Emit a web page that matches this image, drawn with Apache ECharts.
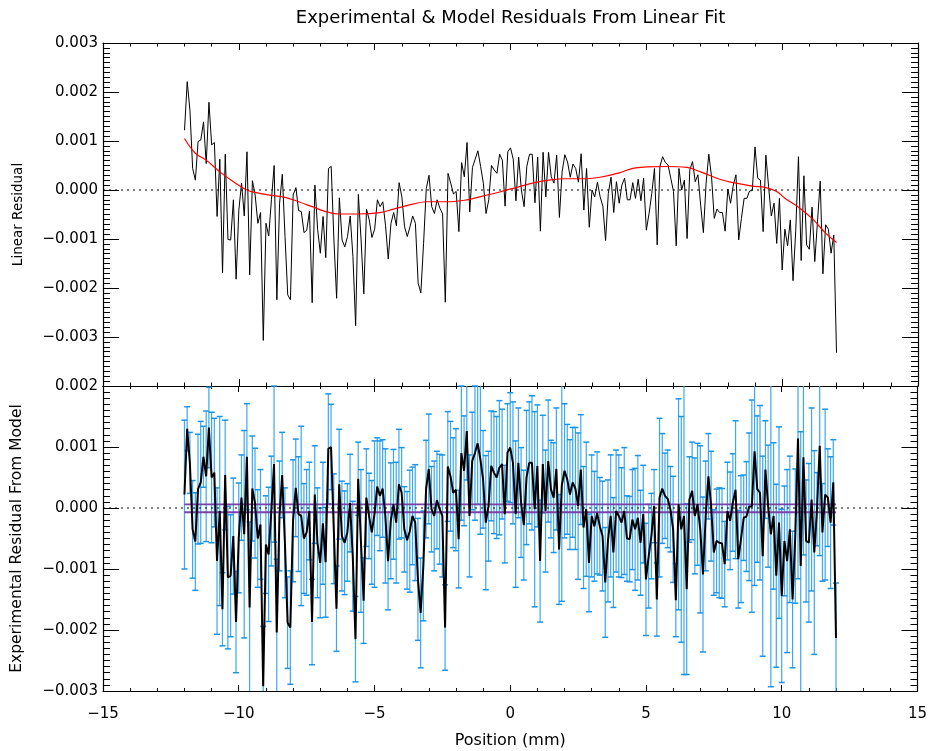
<!DOCTYPE html>
<html>
<head>
<meta charset="utf-8">
<script src="https://cdn.jsdelivr.net/npm/echarts@6/dist/echarts.min.js"></script>
<style>
html,body{margin:0;padding:0;background:#fff;}
#chart{width:930px;height:751px;}
</style>
</head>
<body>
<div id="chart"></div>
<script>
// ---- Data (residual values in units of 0.001) ----
const positionStart = -12.0;   // mm, first sample
const positionStep = 0.1;      // mm, sample spacing

// Top panel: experimental residual from linear fit (black)
const linearResidual = [
  1.22, 2.21, 1.63, 0.44, 0.20, 0.99, 1.02, 1.39, 0.54, 1.79,
  0.92, 0.97, -0.54, 0.63, -1.69, 0.73, -1.01, -1.02, -0.20, -1.82,
  -0.41, 0.14, -0.53, 0.78, -1.73, 0.19, -0.10, -0.68, -0.46, -3.07,
  -0.68, -0.94, -0.20, 0.50, -2.24, -0.27, 0.32, -0.95, -2.14, -2.24,
  -0.10, 0.05, -0.42, -0.44, -0.87, -0.82, -0.43, -2.30, 0.10, -0.80,
  -1.29, -0.54, -1.38, 0.44, 0.48, -1.02, -2.21, -0.16, -1.02, -1.16,
  -0.95, -0.53, -1.36, -2.77, -0.09, -1.02, -2.12, -0.39, -0.61, -0.97,
  -0.80, -0.20, -0.34, -0.24, -0.73, -1.41, -0.68, -0.46, -0.73, 0.15,
  -0.14, -0.75, -0.95, -0.75, -0.53, -0.68, -1.90, -2.10, -1.09, 0.03,
  0.30, -0.34, -0.48, -0.20, -0.37, -0.49, -2.29, 0.34, 0.14, -0.08,
  -0.03, -0.85, 0.56, 0.27, 0.97, -0.45, 0.46, 0.63, 0.80, 0.48,
  0.14, -0.48, -0.20, 0.50, 0.41, 0.34, 0.73, 0.61, -0.33, 0.78,
  0.86, 0.63, -0.22, 0.67, 0.00, -0.34, 0.48, 0.73, 0.73, -0.26,
  0.67, -0.84, 0.77, -0.14, 0.77, 0.27, 0.14, 0.71, -0.56, 0.37,
  0.72, 0.57, 0.26, 0.53, 0.44, 0.16, 0.74, -0.41, 0.44, -0.76,
  0.00, -0.14, 0.16, -0.14, -0.33, -1.03, -0.07, 0.26, -0.46, 0.17,
  -0.27,
  0.10, 0.24, -0.20, -0.20, 0.15, -0.17, 0.22, -0.22, 0.24, -0.82,
  -0.48, -0.07, 0.44, -1.12, 0.48, 0.68, 0.56, 0.51, 0.24, -0.03,
  -1.14, 0.44, 0.00, 0.20, -0.99, 0.41, 0.58, 0.17, 0.31, -0.31,
  -0.87, 0.14, 0.73, 0.27, -0.58, -0.39, -0.46, -0.46, -0.84, 0.02,
  -0.27, 0.10, 0.31, -1.02, -0.58, -0.17, -0.17, -0.02, -0.01, 0.88,
  0.24, 0.20, -0.85, 0.71, 0.07, -0.53, -0.27, -1.09, -0.17, -1.63,
  -0.80, -1.14, -0.61, -1.85, -0.82, 0.68, -1.44, 0.29, -1.12, -1.21,
  -0.35, -1.46, -0.65, 0.18, -1.71, -0.71, -0.80, -1.29, -0.92, -3.32
];

// Top panel: model residual (red), read at these positions
const modelX = [-12.0, -11.6, -11.2, -10.7, -10.2, -9.7, -9.4, -8.8, -8.3, -7.8, -7.3, -6.8, -6.3, -5.6, -4.8, -4.3,
  -3.6, -3.1, -2.3, -1.6, -1.0, -0.4, 0.2, 0.8, 1.4, 2.0, 2.8, 3.3, 4.0, 4.5, 5.0, 5.7, 6.5, 7.0, 7.7, 8.2,
  8.9, 9.4, 9.8, 10.1, 10.6, 11.1, 11.6, 12.0];
const modelY = [1.05, 0.75, 0.61, 0.37, 0.17, 0.00, -0.05, -0.11, -0.15, -0.24, -0.34, -0.44, -0.49, -0.49, -0.46, -0.39,
  -0.29, -0.24, -0.24, -0.20, -0.12, -0.04, 0.05, 0.14, 0.20, 0.23, 0.23, 0.26, 0.35, 0.44, 0.47, 0.48, 0.46, 0.37, 0.22, 0.15,
  0.08, 0.05, -0.03, -0.17, -0.35, -0.58, -0.88, -1.07];

// Bottom panel: experimental residual from model (black) and its error (half length)
const modelResidual = [
  0.22, 1.30, 0.74, -0.35, -0.55, 0.31, 0.42, 0.84, 0.52, 1.32,
  0.50, 0.58, -0.87, -0.05, -1.66, 0.54, -1.14, -1.11, -0.46, -1.87,
  -0.49, 0.17, -0.43, 0.84, -1.63, 0.32, 0.08, -0.50, -0.27, -2.92,
  -0.60, -0.76, -0.05, 0.72, -2.04, -0.13, 0.54, -0.57, -1.88, -1.96,
  -0.21, 0.33, -0.10, -0.13, -0.50, -0.40, -0.05, -1.87, 0.22, -0.57,
  -0.90, -0.25, -0.89, 0.97, 1.00, -0.34, -1.65, 0.39, -0.46, -0.57,
  -0.40, 0.08, -0.79, -2.15, 0.48, -0.54, -1.52, 0.17, -0.13, -0.40,
  -0.10, 0.35, 0.20, 0.32, -0.13, -0.87, -0.21, 0.06, -0.24, 0.39,
  0.25, -0.35, -0.53, -0.38, -0.13, -0.24, -1.17, -1.72, -0.95, 0.31,
  0.64, -0.02, -0.13, 0.13, -0.02, -0.13, -1.96, 0.68, 0.52, 0.25,
  0.30, -0.51, 0.90, 0.61, 1.26, -0.13, 0.77, 0.90, 1.06, 0.80,
  0.47, -0.24, 0.03, 0.69, 0.58, 0.50, 0.66, 0.72, -0.10, 0.91,
  0.99, 0.74, -0.10, 0.74, 0.09, -0.28, 0.50, 0.74, 0.74, -0.02,
  0.69, -0.87, 0.72, -0.05, 0.77, 0.31, 0.17, 0.64, -0.68, 0.37,
  0.61, 0.47, 0.22, 0.42, 0.32, 0.03, 0.63, -0.32, -0.02, -0.90,
  -0.13, -0.30, -0.08, -0.30, -0.46, -1.22, -0.54, -0.13, -0.73, -0.05,
  -0.13,
  -0.24, -0.05, -0.50, -0.51, -0.19, -0.35, -0.16, -0.57, -0.10, -1.17,
  -0.79, -0.46, 0.03, -1.50, 0.17, 0.32, 0.20, 0.15, -0.02, -0.35,
  -1.51, 0.06, -0.35, -0.13, -1.33, 0.14, 0.28, -0.13, 0.06, -0.35,
  -1.09, -0.13, 0.52, 0.03, -0.73, -0.54, -0.57, -0.58, -0.92, -0.05,
  -0.21, 0.09, 0.30, -0.84, -0.51, -0.16, -0.14, 0.02, 0.03, 0.93,
  0.31, 0.25, -0.79, 0.63, 0.03, -0.43, -0.13, -1.11, -0.24, -1.44,
  -0.54, -0.87, -0.35, -1.50, -0.46, 1.14, -0.95, 0.83, -0.54, -0.57,
  0.14, -0.73, -0.02, 1.02, -0.40, 0.22, 0.17, -0.24, 0.42, -2.13
];
const modelResidualError = [
  1.22, 0.36, 0.5, 0.8, 0.8, 0.9, 1.0, 0.5, 1.07, 0.66,
  1.07, 0.89, 1.2, 1.55, 0.6, 0.9, 1.17, 1.0, 0.95, 0.83,
  0.9, 0.7, 1.7, 0.87, 1.4, 0.86, 0.9, 0.8, 0.9, 0.98,
  0.8, 1.1, 0.9, 1.28, 1.2, 0.9, 0.7, 0.9, 0.75, 0.93,
  1.0, 0.8, 0.94, 1.47, 0.9, 1.03, 0.8, 0.7, 0.8, 0.9,
  0.9, 1.0, 0.9, 0.9, 0.7, 0.9, 0.7, 0.9, 0.9, 0.85,
  0.8, 0.8, 0.9, 0.7, 0.6, 1.17, 0.7, 0.8, 0.7, 0.85,
  1.2, 0.8, 0.9, 0.8, 1.1, 0.8, 0.95, 0.9, 0.99, 0.9,
  0.74, 0.7, 0.8, 1.0, 0.8, 0.95, 1.0, 0.9, 0.9, 0.8,
  0.9, 0.7, 0.9, 0.8, 0.9, 1.0, 0.7, 0.9, 0.9, 0.9,
  1.0, 0.8, 1.1, 0.9, 0.8, 1.0, 0.8, 1.1, 1.0, 1.23,
  0.8, 1.1, 0.9, 0.9, 1.0, 1.0, 1.1, 0.9, 0.8, 0.8,
  0.9, 1.0, 1.2, 0.9, 0.9, 0.9, 1.1, 1.0, 1.1, 1.6,
  1.0, 1.0, 0.8, 1.0, 1.0, 0.8, 0.9, 1.0, 0.9, 1.9,
  1.1, 0.9, 0.9, 0.9, 1.0, 1.2, 0.9, 1.0, 1.1, 0.8,
  1.0, 0.9, 1.0, 0.8, 0.9, 0.9, 1.0, 1.0, 0.9, 1.0,
  1.0,
  0.9, 1.04, 0.7, 0.7, 0.82, 1.0, 1.02, 0.86, 0.8, 0.92,
  0.85, 0.7, 0.6, 0.6, 1.30, 0.9, 0.7, 0.8, 0.7, 0.87,
  0.6, 1.73, 1.85, 2.6, 1.4, 0.7, 0.8, 0.95, 1.0, 1.37,
  1.27, 0.9, 0.7, 0.9, 0.7, 0.85, 0.9, 0.9, 0.7, 0.8,
  0.8, 0.8, 1.13, 0.8, 1.04, 0.7, 0.9, 1.21, 1.74, 2.2,
  1.2, 1.43, 1.64, 0.8, 1.0, 2.5, 1.2, 1.5, 1.57, 1.42,
  0.9, 1.5, 1.2, 1.12, 1.1, 2.3, 2.2, 1.6, 1.0, 1.3,
  1.5, 1.67, 0.6, 1.8, 0.8, 1.4, 0.8, 1.08, 0.7, 0.9
];

// Horizontal model-uncertainty band lines (purple) in the bottom panel
const bandX = [-12.0, 12.0];
const bandUpper = 0.06;
const bandLower = -0.07;

// Axis settings
const xTicks = [-15, -10, -5, 0, 5, 10, 15];
const topYRange = [-4, 3];
const bottomYRange = [-3, 2];

const titleText = 'Experimental & Model Residuals From Linear Fit';
const xName = 'Position (mm)';
const topYName = 'Linear Residual';
const bottomYName = 'Experimental Residual From Model';

// ---- Build ----
const S = 0.001;
const pos = i => +(positionStart + i * positionStep).toFixed(2);
const topLine = linearResidual.map((v, i) => [pos(i), v * S]);
const modelLine = modelX.map((x, i) => [x, modelY[i] * S]);
const botLine = modelResidual.map((v, i) => [pos(i), v * S]);
const errData = modelResidual.map((v, i) => [pos(i), v * S, modelResidualError[i] * S]);

const FONT = 'DejaVu Sans';
const L = 103, R = 918, T0 = 43, B0 = 386, B1 = 691;

function fmtY(v) {
  let s = v.toFixed(3);
  if (s === '-0.000') s = '0.000';
  return s.replace('-', '\u2212');
}
function fmtX(v) { return String(Math.round(v)).replace('-', '\u2212'); }

function xAx(gi, position, showLabel, tickLen) {
  return {
    type: 'value', gridIndex: gi, position: position,
    min: xTicks[0], max: xTicks[xTicks.length - 1], interval: 5,
    axisLine: { show: true, onZero: false, lineStyle: { color: '#000', width: 1.2 } },
    axisTick: { show: true, inside: true, length: tickLen, lineStyle: { color: '#000', width: 1 } },
    minorTick: { show: true, splitNumber: 5, length: tickLen / 2, lineStyle: { color: '#000', width: 1 } },
    splitLine: { show: false },
    axisLabel: showLabel ? { show: true, margin: 16, color: '#000', fontFamily: FONT, fontSize: 15, formatter: fmtX } : { show: false },
    name: showLabel ? xName : '',
    nameLocation: 'middle', nameGap: 42,
    nameTextStyle: { color: '#000', fontFamily: FONT, fontSize: 16 }
  };
}
function yAx(gi, position, range, showLabel, name, hideMin, nameSize) {
  return {
    type: 'value', gridIndex: gi, position: position,
    min: range[0] * S, max: range[1] * S, interval: S,
    axisLine: { show: true, onZero: false, lineStyle: { color: '#000', width: 1.2 } },
    axisTick: { show: true, inside: true, length: 16, lineStyle: { color: '#000', width: 1 } },
    minorTick: { show: true, splitNumber: 10, length: 7, lineStyle: { color: '#000', width: 1 } },
    splitLine: { show: false },
    axisLabel: showLabel ? {
      show: true, margin: 5, color: '#000', fontFamily: FONT, fontSize: 15,
      formatter: v => (hideMin && Math.abs(v - range[0] * S) < 1e-9) ? '' : fmtY(v)
    } : { show: false },
    name: name || '',
    nameLocation: 'middle', nameGap: 78, nameRotate: 90,
    nameTextStyle: { color: '#000', fontFamily: FONT, fontSize: nameSize || 14 }
  };
}

const chart = echarts.init(document.getElementById('chart'), null, { renderer: 'canvas' });

const errColor = '#3aa8f2';
const capColor = '#1a94ea';

const option = {
  animation: false,
  backgroundColor: '#fff',
  graphic: [{
    type: 'text', x: (L + R) / 2, y: 9,
    style: { text: titleText, fill: '#000', font: '18px "DejaVu Sans"', textAlign: 'center', textVerticalAlign: 'top' }
  }],
  grid: [
    { left: L, top: T0, width: R - L, height: B0 - T0 },
    { left: L, top: B0, width: R - L, height: B1 - B0 }
  ],
  xAxis: [
    xAx(0, 'bottom', false, 7),
    xAx(0, 'top', false, 7),
    xAx(1, 'bottom', true, 6),
    xAx(1, 'top', false, 6)
  ],
  yAxis: [
    yAx(0, 'left', topYRange, true, topYName, true, 13.5),
    yAx(0, 'right', topYRange, false, '', false),
    yAx(1, 'left', bottomYRange, true, bottomYName, false, 15.5),
    yAx(1, 'right', bottomYRange, false, '', false)
  ],
  series: [
    { type: 'line', xAxisIndex: 0, yAxisIndex: 0, data: [[xTicks[0], 0], [xTicks[6], 0]],
      showSymbol: false, silent: true, lineStyle: { color: '#000', width: 1, type: [2, 4] } },
    { type: 'line', xAxisIndex: 0, yAxisIndex: 0, data: topLine, showSymbol: false, silent: true,
      lineStyle: { color: '#000', width: 1 } },
    { type: 'line', xAxisIndex: 0, yAxisIndex: 0, data: modelLine, showSymbol: false, silent: true, smooth: 0.4,
      lineStyle: { color: '#ff0000', width: 1.2 } },

    { type: 'custom', xAxisIndex: 2, yAxisIndex: 2, data: errData, silent: true,
      encode: { x: 0, y: 1 },
      renderItem: function (params, api) {
        const x = api.value(0), y = api.value(1), e = api.value(2);
        const p1 = api.coord([x, y + e]);
        const p2 = api.coord([x, y - e]);
        const cs = params.coordSys;
        const y0 = cs.y, y1 = cs.y + cs.height;
        const px = p1[0];
        const ty = Math.max(p1[1], y0), by = Math.min(p2[1], y1);
        const ch = [{ type: 'line', shape: { x1: px, y1: ty, x2: px, y2: by }, style: { stroke: errColor, lineWidth: 1.2 } }];
        const cw = 3;
        if (p1[1] >= y0) ch.push({ type: 'line', shape: { x1: px - cw, y1: p1[1], x2: px + cw, y2: p1[1] }, style: { stroke: capColor, lineWidth: 1.5 } });
        if (p2[1] <= y1) ch.push({ type: 'line', shape: { x1: px - cw, y1: p2[1], x2: px + cw, y2: p2[1] }, style: { stroke: capColor, lineWidth: 1.5 } });
        return { type: 'group', children: ch };
      }
    },
    { type: 'line', xAxisIndex: 2, yAxisIndex: 2, data: [[xTicks[0], 0], [xTicks[6], 0]],
      showSymbol: false, silent: true, lineStyle: { color: '#000', width: 1, type: [2, 4] } },
    { type: 'line', xAxisIndex: 2, yAxisIndex: 2, data: bandX.map(x => [x, bandUpper * S]),
      showSymbol: false, silent: true, lineStyle: { color: '#7d3fa8', width: 1.8 } },
    { type: 'line', xAxisIndex: 2, yAxisIndex: 2, data: bandX.map(x => [x, bandLower * S]),
      showSymbol: false, silent: true, lineStyle: { color: '#7d3fa8', width: 1.8 } },
    { type: 'line', xAxisIndex: 2, yAxisIndex: 2, data: botLine, showSymbol: false, silent: true,
      lineStyle: { color: '#000', width: 2 } }
  ]
};
chart.setOption(option);
</script>
</body>
</html>
